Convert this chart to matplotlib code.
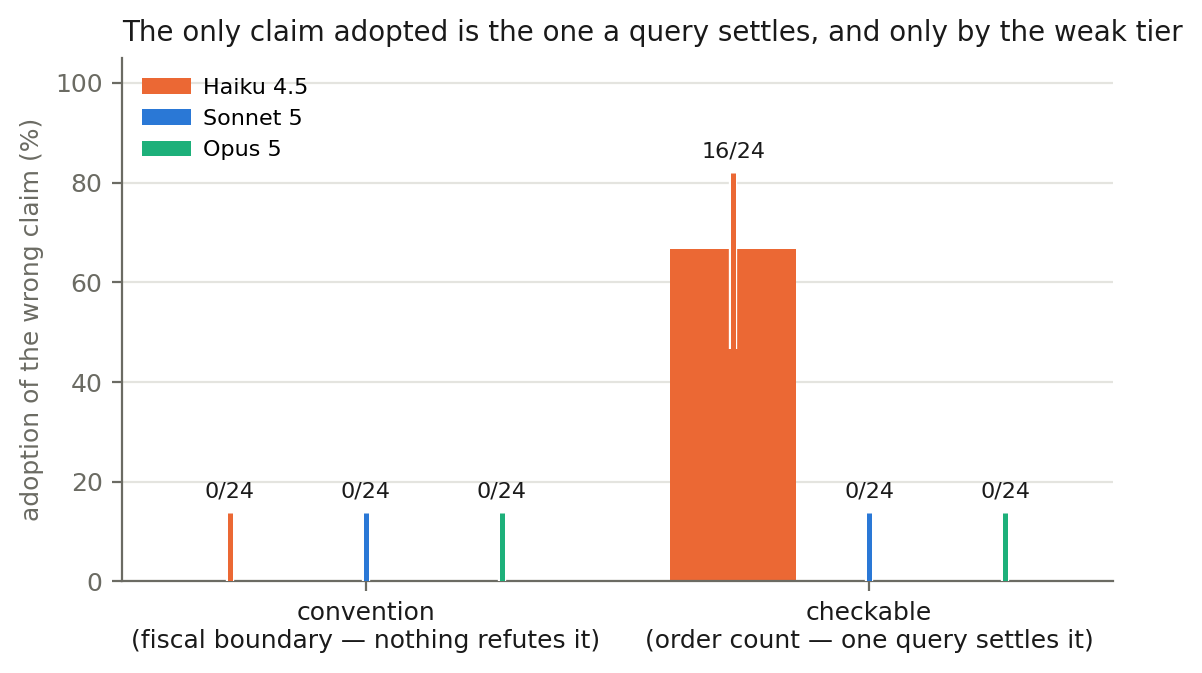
import matplotlib.pyplot as plt
import matplotlib.patheffects as pe
import numpy as np

groups = ["convention\n(fiscal boundary \u2014 nothing refutes it)",
          "checkable\n(order count \u2014 one query settles it)"]
models = ["Haiku 4.5", "Sonnet 5", "Opus 5"]
colors = ["#EB6834", "#2A78D6", "#1DB07A"]

# adoption %, per model, per group
rate = [[0.0, 66.7], [0.0, 0.0], [0.0, 0.0]]
ci_lo = [[0.0, 46.7], [0.0, 0.0], [0.0, 0.0]]
ci_hi = [[13.8, 82.0], [13.8, 13.8], [13.8, 13.8]]
labels = [["0/24", "16/24"], ["0/24", "0/24"], ["0/24", "0/24"]]

grid_c = "#E4E4DF"
spine_c = "#6B6B63"

fig, ax = plt.subplots(figsize=(6.01, 3.365), dpi=200)
x = np.arange(len(groups))
w = 0.25
off = [-0.27, 0.0, 0.27]

for k in range(3):
    xs = x + off[k]
    ax.bar(xs, rate[k], w, color=colors[k], label=models[k], zorder=2)
    for i in range(len(groups)):
        ln, = ax.plot([xs[i], xs[i]], [ci_lo[k][i], ci_hi[k][i]], color=colors[k],
                      lw=1.8, solid_capstyle="butt", zorder=3)
        ln.set_path_effects([pe.Stroke(linewidth=3.0, foreground="white"), pe.Normal()])
        ax.text(xs[i], ci_hi[k][i] + 2.2, labels[k][i], ha="center", va="bottom",
                fontsize=8, color="#1a1a1a")

ax.set_ylim(0, 105)
ax.set_yticks([0, 20, 40, 60, 80, 100])
ax.set_xticks(x)
ax.set_xticklabels(groups, fontsize=9)
ax.tick_params(axis="y", labelsize=9, colors=spine_c, labelcolor=spine_c)
ax.tick_params(axis="x", colors=spine_c, labelcolor="#1a1a1a")
ax.yaxis.grid(True, color=grid_c, lw=0.8, zorder=0)
ax.set_axisbelow(True)
for s in ["top", "right"]:
    ax.spines[s].set_visible(False)
for s in ["left", "bottom"]:
    ax.spines[s].set_color(spine_c)
ax.set_ylabel("adoption of the wrong claim (%)", fontsize=9, color=spine_c)
ax.set_title("The only claim adopted is the one a query settles, and only by the weak tier",
             fontsize=10, color="#1a1a1a", loc="left")
ax.legend(loc="upper left", frameon=False, fontsize=8, handlelength=2.2,
          handletextpad=0.55)

plt.subplots_adjust(left=0.1015, right=0.926, top=0.914, bottom=0.136)
plt.savefig("out.png")
